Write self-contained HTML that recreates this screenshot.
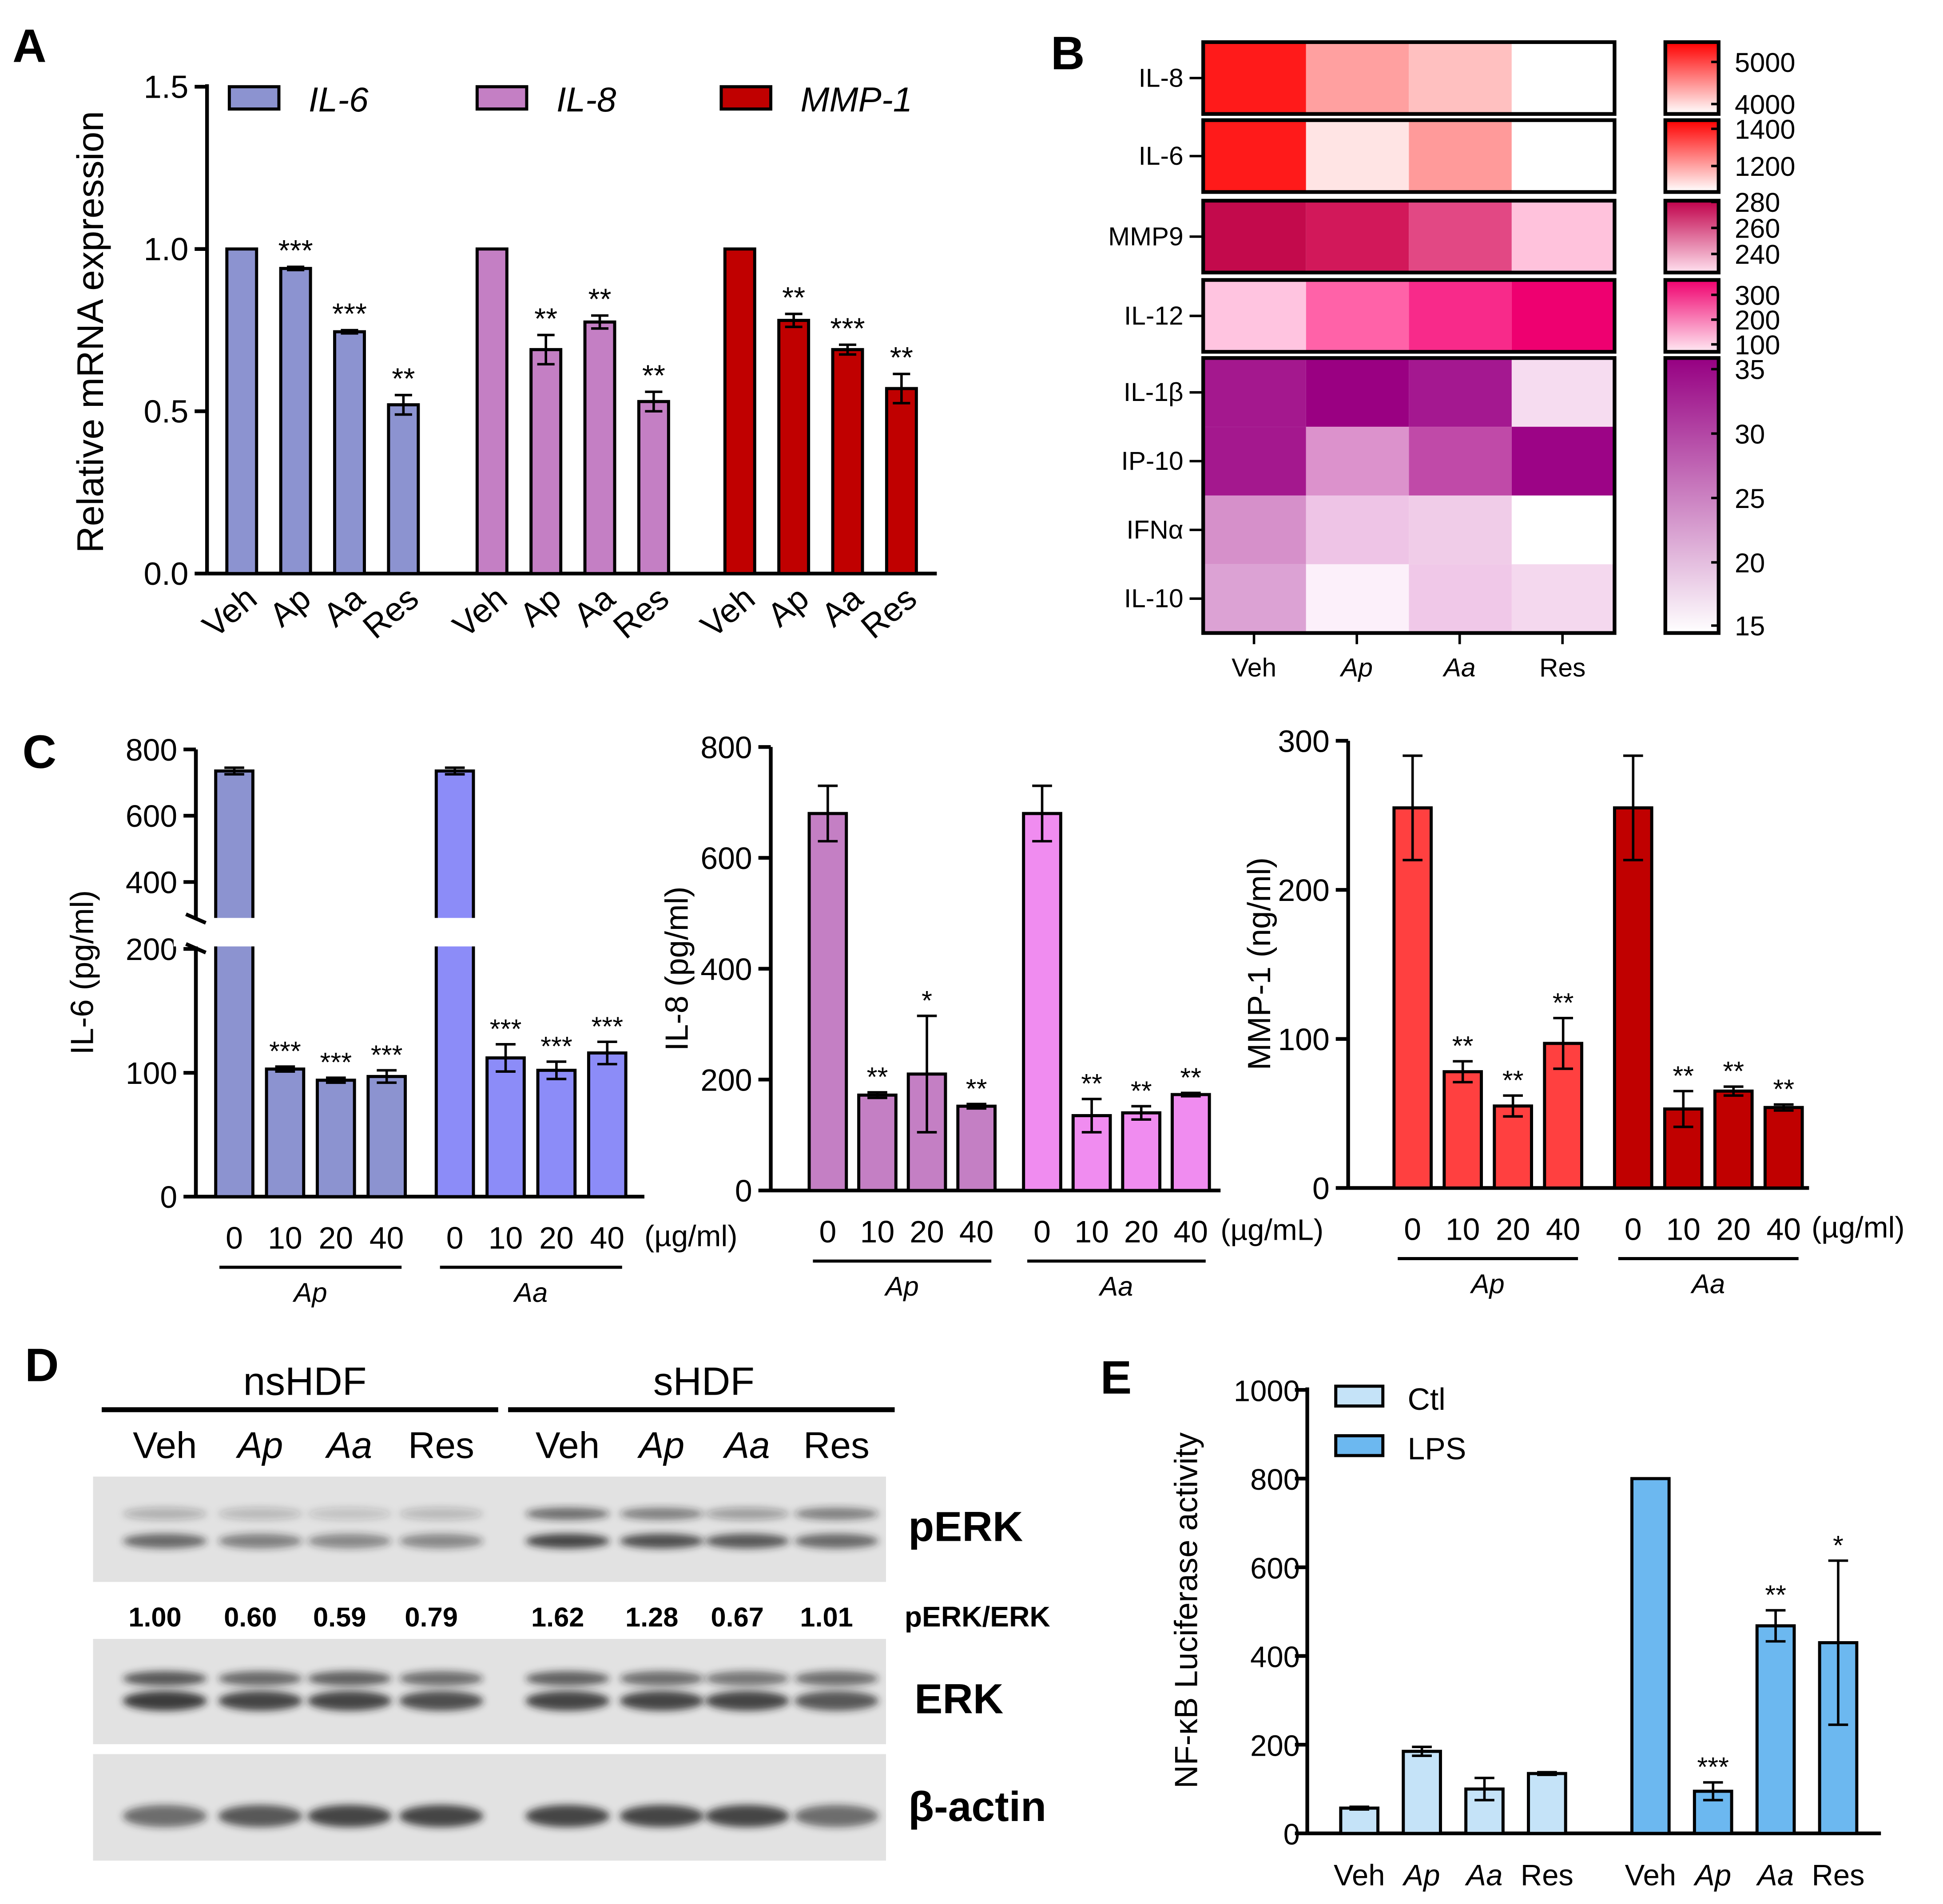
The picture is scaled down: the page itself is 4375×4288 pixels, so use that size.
<!DOCTYPE html>
<html><head><meta charset="utf-8"><style>
html,body{margin:0;padding:0;background:#fff}
svg{display:block}
text{font-family:"Liberation Sans",Arial,sans-serif}
</style></head><body>
<svg id="fig" width="4375" height="4288" viewBox="0 0 1568 1537" xmlns="http://www.w3.org/2000/svg">
<defs>
<filter id="blur" x="-20%" y="-50%" width="140%" height="200%"><feGaussianBlur stdDeviation="3"/></filter>
<linearGradient id="gRed" x1="0" y1="0" x2="0" y2="1"><stop offset="0" stop-color="#ff0000"/><stop offset="1" stop-color="#fff"/></linearGradient>
<linearGradient id="gMMP" x1="0" y1="0" x2="0" y2="1"><stop offset="0" stop-color="#c0004a"/><stop offset="1" stop-color="#ffe0ee"/></linearGradient>
<linearGradient id="gPink" x1="0" y1="0" x2="0" y2="1"><stop offset="0" stop-color="#f0006e"/><stop offset="1" stop-color="#ffe8f2"/></linearGradient>
<linearGradient id="gPurp" x1="0" y1="0" x2="0" y2="1"><stop offset="0" stop-color="#960082"/><stop offset="1" stop-color="#fff"/></linearGradient>
</defs>
<g font-weight="bold" font-size="38">
<text x="10" y="50">A</text>
<text x="848" y="56">B</text>
<text x="18" y="620">C</text>
<text x="20" y="1115">D</text>
<text x="888" y="1125">E</text>
</g>
<g id="root"></g>
</svg>
<script>
// ---- Data ----
const catsA = ['Veh','Ap','Aa','Res'];
const il6A = [1, 0.94, 0.745, 0.52];
const il6AErr = [0, 0.005, 0.005, 0.03];
const il8A = [1, 0.69, 0.775, 0.53];
const il8AErr = [0, 0.045, 0.02, 0.03];
const mmpA = [1, 0.78, 0.69, 0.57];
const mmpAErr = [0, 0.02, 0.015, 0.045];
const sigA = [['','***','***','**'],['','**','**','**'],['','**','***','**']];
const ticksA = [0,0.5,1.0,1.5];

const heatRows = ['IL-8','IL-6','MMP9','IL-12','IL-1β','IP-10','IFNα','IL-10'];
const heatCols = ['Veh','Ap','Aa','Res'];
const heatColors = [
 ['#ff1a1a','#ffa0a0','#ffc0c0','#ffffff'],
 ['#ff1a1a','#ffe4e4','#ff9a9a','#ffffff'],
 ['#c30a4c','#d2185a','#e24884','#ffc2dc'],
 ['#ffc4e0','#ff62a8','#f82a8a','#ee0070'],
 ['#a4188e','#9a0082','#a41890','#f6dcf0'],
 ['#a4188e','#dc92cc','#c04aa8','#9c0486'],
 ['#d690ca','#eec4e6','#f0cce8','#ffffff'],
 ['#dca2d4','#fcf0fa','#f0c8e8','#f4d8ee']
];

const doseCats = ['0','10','20','40'];
const il6Ap = [735,103,94,97]; const il6ApErr=[10,2,2,5];
const il6Aa = [735,112,102,116]; const il6AaErr=[10,11,7,9];
const il6Sig = [['','***','***','***'],['','***','***','***']];
const il8Ap = [680,172,210,152]; const il8ApErr=[50,5,105,4];
const il8Aa = [680,135,140,173]; const il8AaErr=[50,30,12,3];
const il8Sig = [['','**','*','**'],['','**','**','**']];
const mmpAp = [255,78,55,97]; const mmpApErr=[35,7,7,17];
const mmpAa = [255,53,65,54]; const mmpAaErr=[35,12,3,2];
const mmpSig = [['','**','**','**'],['','**','**','**']];

const ratioLabels = ['1.00','0.60','0.59','0.79','1.62','1.28','0.67','1.01'];
const pErkUpper = [0.3,0.25,0.2,0.25,0.7,0.6,0.4,0.6];
const pErkLower = [0.75,0.6,0.55,0.55,0.95,0.9,0.85,0.75];
const erkUpper = [0.85,0.75,0.8,0.7,0.8,0.7,0.65,0.7];
const erkLower = [1,0.95,0.95,0.9,0.95,0.95,0.95,0.85];
const actin = [0.7,0.85,0.95,0.95,0.95,0.95,0.95,0.7];

const catsE = ['Veh','Ap','Aa','Res'];
const ctlE = [57,185,100,135]; const ctlEErr=[3,10,25,3];
const lpsE = [800,95,468,430]; const lpsEErr=[0,20,35,185];
const sigE = ['','***','**','*'];
const ticksE = [0,200,400,600,800,1000];

// ---- helpers ----
const NS='http://www.w3.org/2000/svg';
const root=document.getElementById('root');
function mk(tag,attrs,parent){const e=document.createElementNS(NS,tag);for(const k in attrs)e.setAttribute(k,attrs[k]);(parent||root).appendChild(e);return e;}
function txt(s,x,y,size,anchor,extra){const t=mk('text',Object.assign({x:x,y:y,'font-size':size,'text-anchor':anchor||'middle'},extra||{}));t.textContent=s;return t;}
function line(x1,y1,x2,y2,w){return mk('line',{x1,y1,x2,y2,stroke:'#000','stroke-width':w||3});}
function errbar(x,yT,yB,hw){line(x,yT,x,yB,2);line(x-hw,yT,x+hw,yT,2);line(x-hw,yB,x+hw,yB,2);}

// ---- Panel A ----
const yA=v=>463-v*262;
const axA=line(167,68,167,463,3);


const axAx=line(167,463,756,463,3);


ticksA.forEach(v=>{line(157,yA(v),167,yA(v),3);const t=txt(v.toFixed(1),152,yA(v)+9,26,'end');});
const yt=txt('Relative mRNA expression',0,0,30,'middle',{transform:'translate(83,268) rotate(-90)'});


const groupsA=[[il6A,il6AErr,'#8c93d0',195],[il8A,il8AErr,'#c47fc4',397],[mmpA,mmpAErr,'#c00000',597]];
groupsA.forEach((g,gi)=>{
 g[0].forEach((v,i)=>{
  const cx=g[3]+i*43.5;
  const r=mk('rect',{x:cx-12,y:yA(v),width:24,height:463-yA(v),fill:g[2],stroke:'#000','stroke-width':2.5});
  
  
  if(g[1][i]>0)errbar(cx,yA(v+g[1][i]),yA(v-g[1][i]),7);
  if(sigA[gi][i])txt(sigA[gi][i],cx,yA(v+g[1][i])-5,24);
  const l=txt(catsA[i],0,0,27,'end',{transform:`translate(${cx+14},${486}) rotate(-40)`});
  
  
 });
});
[['IL-6','#8c93d0',185],['IL-8','#c47fc4',385],['MMP-1','#c00000',582]].forEach(l=>{
 const r=mk('rect',{x:l[2],y:70,width:40,height:18,fill:l[1],stroke:'#000','stroke-width':2.5});
 
 
 const t=txt(l[0],l[2]+64,90,28,'start',{'font-style':'italic'});
 
 
});

// ---- Panel B ----
const rowY=[34,97,162,226,289,344.5,400,455.5];
const rowH=[58,58,58,58,55.5,55.5,55.5,55.5];
heatRows.forEach((rname,ri)=>{
 heatColors[ri].forEach((c,ci)=>{
  const r=mk('rect',{x:971+ci*83,y:rowY[ri],width:83,height:rowH[ri],fill:c});
  
  
 });
 const cy=rowY[ri]+rowH[ri]/2;
 line(960,cy,971,cy,2);
 const t=txt(rname,955,cy+7,21,'end');
 
 
});
[[34,58],[97,58],[162,58],[226,58],[289,222]].forEach(b=>mk('rect',{x:971,y:b[0],width:332,height:b[1],fill:'none',stroke:'#000','stroke-width':3}));
heatCols.forEach((c,ci)=>{line(1012+ci*83,511,1012+ci*83,520,2);const t=txt(c,1012+ci*83,546,21,'middle',ci==1||ci==2?{'font-style':'italic'}:{});});
const cbars=[[34,58,'gRed',['5000','4000'],[50,84]],[97,58,'gRed',['1400','1200'],[104,134]],[162,58,'gMMP',['280','260','240'],[163,184,205]],[226,58,'gPink',['300','200','100'],[238,258,278]],[289,222,'gPurp',['35','30','25','20','15'],[298,350,402,454,505]]];
cbars.forEach(cb=>{
 const r=mk('rect',{x:1344,y:cb[0],width:43,height:cb[1],fill:'url(#'+cb[2]+')',stroke:'#000','stroke-width':3});
 
 
 cb[3].forEach((s,i)=>{const t=txt(s,1400,cb[4][i]+8,22,'start');line(1381,cb[4][i],1387,cb[4][i],2);});
});

// ---- Panel C ----
function cPanel(o){
 line(o.ax,o.yTop,o.ax,o.y0,3);
 line(o.ax,o.y0,o.xEnd,o.y0,3);
 o.ticks.forEach(v=>{const y=o.ys(v);line(o.ax-10,y,o.ax,y,3);const t=txt(String(v),o.ax-15,y+9,25,'end');});
 const yt=txt(o.title,0,0,26,'middle',{transform:`translate(${o.tx},${o.ty}) rotate(-90)`});
 
 
 [[o.d1,o.e1,o.c1,o.x1,'Ap',0],[o.d2,o.e2,o.c2,o.x2,'Aa',1]].forEach(g=>{
  g[0].forEach((v,i)=>{
   const cx=g[3]+i*o.step;
   const r=mk('rect',{x:cx-15,y:o.ys(v),width:30,height:o.y0-o.ys(v),fill:g[2],stroke:'#000','stroke-width':2.5});
   
   
   errbar(cx,o.ys(v+g[1][i]),o.ys(v-g[1][i]),8);
   if(o.sig[g[5]][i])txt(o.sig[g[5]][i],cx,o.ys(v+g[1][i])-5,22);
   const t=txt(doseCats[i],cx,o.y0+42,25);
   
   
  });
  line(g[3]-12,o.y0+57,g[3]+3*o.step+12,o.y0+57,2.5);
  txt(g[4],g[3]+1.5*o.step,o.y0+85,22,'middle',{'font-style':'italic'});
 });
 txt(o.unit,o.ux,o.y0+40,24,'start');
}
const ysIL6=v=>v<=200?966-v:(v<300?766:712-(v-400)*0.2675);
cPanel({ax:158,yTop:605,y0:966,xEnd:520,ys:ysIL6,ticks:[0,100,200,400,600,800],title:'IL-6 (pg/ml)',tx:75,ty:785,
 d1:il6Ap,e1:il6ApErr,c1:'#8c93d0',x1:189,d2:il6Aa,e2:il6AaErr,c2:'#8c8cf8',x2:367,step:41,sig:il6Sig,unit:'(µg/ml)',ux:520});
// break marks
mk('rect',{x:140,y:741,width:380,height:23,fill:'#fff'});
line(150,738,166,745,3);line(150,762,166,769,3);
line(158,605,158,740,3);line(158,766,158,966,3);
const ysIL8=v=>961-v*0.4475;
cPanel({ax:622,yTop:603,y0:961,xEnd:985,ys:ysIL8,ticks:[0,200,400,600,800],title:'IL-8 (pg/ml)',tx:555,ty:782,
 d1:il8Ap,e1:il8ApErr,c1:'#c47fc4',x1:668,d2:il8Aa,e2:il8AaErr,c2:'#f08cf0',x2:841,step:40,sig:il8Sig,unit:'(µg/mL)',ux:985});
const ysMMP=v=>959-v*1.2033;
cPanel({ax:1088,yTop:598,y0:959,xEnd:1460,ys:ysMMP,ticks:[0,100,200,300],title:'MMP-1 (ng/ml)',tx:1025,ty:778,
 d1:mmpAp,e1:mmpApErr,c1:'#ff4040',x1:1140,d2:mmpAa,e2:mmpAaErr,c2:'#c00000',x2:1318,step:40.5,sig:mmpSig,unit:'(µg/ml)',ux:1462});

// ---- Panel D ----
txt('nsHDF',246,1126,32);txt('sHDF',568,1126,32);
line(82,1138,402,1138,4);line(410,1138,722,1138,4);
const laneX=[133,210,282,356,458,534,603,675];
['Veh','Ap','Aa','Res','Veh','Ap','Aa','Res'].forEach((s,i)=>{const t=txt(s,laneX[i],1177,30,'middle',(s=='Ap'||s=='Aa')?{'font-style':'italic'}:{});});
function blot(y,h,name,bands){
 const r=mk('rect',{x:75,y:y,width:640,height:h,fill:'#e2e2e2'});
 
 
 bands.forEach(b=>b[0].forEach((v,i)=>{mk('ellipse',{cx:laneX[i],cy:y+b[1],rx:34,ry:b[2],fill:'#222','fill-opacity':v*0.85,filter:'url(#blur)'});}));
}
blot(1192,85,'perk-blot',[[pErkUpper,30,5],[pErkLower,52,6]]);
blot(1323,85,'erk-blot',[[erkUpper,32,6],[erkLower,50,8]]);
blot(1416,86,'actin-blot',[[actin,50,9]]);
ratioLabels.forEach((s,i)=>{const t=txt(s,laneX[i]-8,1313,22,'middle',{'font-weight':'bold'});});
txt('pERK',733,1244,34,'start',{'font-weight':'bold'});
txt('pERK/ERK',730,1313,23,'start',{'font-weight':'bold'});
txt('ERK',738,1383,34,'start',{'font-weight':'bold'});
txt('β-actin',733,1470,34,'start',{'font-weight':'bold','font-family':'Liberation Serif'});

// ---- Panel E ----
const yE=v=>1480-v*0.358;
const axE=1055;
line(axE,1120,axE,1480,3);line(axE,1480,1518,1480,3);
ticksE.forEach(v=>{line(axE-10,yE(v),axE,yE(v),3);const t=txt(String(v),axE-6,yE(v)+9,24,'end');});
txt('NF-κB Luciferase activity',0,0,26,'middle',{transform:'translate(966,1300) rotate(-90)'});
[[ctlE,ctlEErr,'#c5e3f8',1097,null],[lpsE,lpsEErr,'#6cb8f0',1332,sigE]].forEach((g,gi)=>{
 g[0].forEach((v,i)=>{
  const cx=g[3]+i*50.5;
  const r=mk('rect',{x:cx-15,y:yE(v),width:30,height:1480-yE(v),fill:g[2],stroke:'#000','stroke-width':2.5});
  
  
  if(g[1][i]>0)errbar(cx,yE(v+g[1][i]),yE(v-g[1][i]),8);
  if(g[4]&&g[4][i])txt(g[4][i],cx,yE(v+g[1][i])-5,22);
  const t=txt(catsE[i],cx,1522,24,'middle',(i==1||i==2)?{'font-style':'italic'}:{});
  
  
 });
});
[['Ctl','#c5e3f8',1120],['LPS','#6cb8f0',1160]].forEach(l=>{
 const r=mk('rect',{x:1078,y:l[2]-1,width:38,height:16,fill:l[1],stroke:'#000','stroke-width':2.5});
 
 
 const t=txt(l[0],1136,l[2]+18,25,'start');
 
 
});
</script>
</body></html>
